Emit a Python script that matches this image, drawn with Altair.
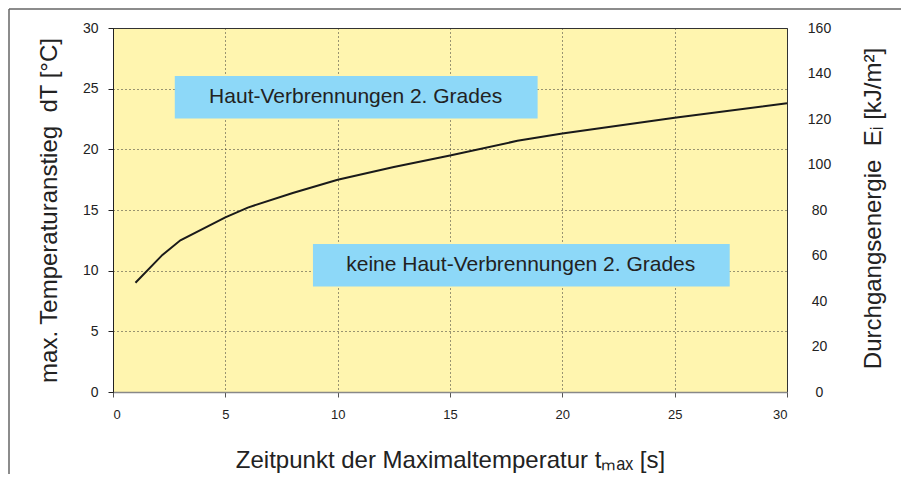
import altair as alt
import pandas as pd

# --- data ---
t_values = [1, 2.2, 3, 5, 6, 8, 10, 12.5, 15, 18, 20, 25, 30]
dT_values = [9.0, 11.3, 12.5, 14.4, 15.2, 16.4, 17.5, 18.55, 19.5, 20.7, 21.3, 22.6, 23.8]

box_labels = ["Haut-Verbrennungen 2. Grades", "keine Haut-Verbrennungen 2. Grades"]
box_x1 = [2.75, 8.9]
box_x2 = [18.9, 27.45]
box_y1 = [22.55, 8.7]
box_y2 = [26.05, 12.2]
label_x = [10.8, 18.15]
label_y = [24.3, 10.45]

x_ticks = [0, 5, 10, 15, 20, 25, 30]
left_ticks = [0, 5, 10, 15, 20, 25, 30]
right_ticks = [0, 20, 40, 60, 80, 100, 120, 140, 160]
right_domain = [0, 160]

FONT = "Liberation Sans"
NARROW = "'Liberation Sans Narrow', 'Liberation Sans', sans-serif"
YELLOW = "#FFF5AF"
BLUE = "#8DD8F8"

curve = pd.DataFrame({"t": t_values, "dT": dT_values})
boxes = pd.DataFrame({
    "label": box_labels, "x1": box_x1, "x2": box_x2,
    "y1": box_y1, "y2": box_y2, "lx": label_x, "ly": label_y,
})
energy = pd.DataFrame({"E": right_domain, "t": [0, 30]})

xscale = alt.Scale(domain=[0, 30], nice=False, zero=False)
yscale = alt.Scale(domain=[0, 30], nice=False)

x_axis = alt.Axis(
    title="Zeitpunkt der Maximaltemperatur t\u2098\u2090\u2093 [s]",
    values=x_ticks, grid=True, gridDash=[1, 3], gridColor="#333", gridWidth=1,
    labelFont=NARROW, labelFontSize=13, labelColor="#222", labelPadding=11,
    tickSize=5, tickColor="#555", domainColor="#888", domainWidth=1.5,
    titleFont=FONT, titleFontSize=24, titleFontWeight="normal", titleColor="#222",
    titleX=337, titleY=75, titleAlign="center", titleBaseline="alphabetic",
)
left_axis = alt.Axis(
    title="max. Temperaturanstieg\u00a0\u00a0dT [°C]",
    values=left_ticks, grid=True, gridDash=[1, 3], gridColor="#333", gridWidth=1,
    labelFont=FONT, labelFontSize=14, labelColor="#222", labelPadding=10,
    tickSize=5, tickColor="#222", domainColor="#222", domainWidth=1,
    titleFont=FONT, titleFontSize=24, titleFontWeight="normal", titleColor="#222",
    titleAngle=270, titleX=-57, titleY=182, titleAlign="center", titleBaseline="alphabetic",
)
right_axis = alt.Axis(
    title="Durchgangsenergie\u00a0\u00a0E\u1d62 [kJ/m²]", orient="right",
    values=right_ticks, grid=False, ticks=False, tickSize=0, domain=False,
    labelFont=FONT, labelFontSize=14, labelColor="#222", labelPadding=32, labelAlign="center",
    titleFont=FONT, titleFontSize=24, titleFontWeight="normal", titleColor="#222",
    titleAngle=270, titleX=93, titleY=180, titleAlign="center", titleBaseline="alphabetic",
)

rects = alt.Chart(boxes).mark_rect(color=BLUE).encode(
    x=alt.X("x1:Q", scale=xscale, axis=x_axis),
    x2="x2:Q",
    y=alt.Y("y1:Q", scale=yscale, axis=left_axis),
    y2="y2:Q",
)
texts = alt.Chart(boxes).mark_text(font=FONT, fontSize=21, color="#222").encode(
    x=alt.X("lx:Q", scale=xscale),
    y=alt.Y("ly:Q", scale=yscale),
    text="label:N",
)
line = alt.Chart(curve).mark_line(color="#1a1a1a", strokeWidth=2).encode(
    x=alt.X("t:Q", scale=xscale),
    y=alt.Y("dT:Q", scale=yscale),
)
left_layer = alt.layer(rects, texts, line)

right_layer = alt.Chart(energy).mark_point(opacity=0).encode(
    x=alt.X("t:Q", scale=xscale),
    y=alt.Y("E:Q", scale=alt.Scale(domain=right_domain, nice=False), axis=right_axis),
)

frame_df = pd.DataFrame({"k": [0]})
frame_left = alt.Chart(frame_df).mark_rule(color="#666", strokeWidth=1.5).encode(
    x=alt.value(-104), y=alt.value(-19), y2=alt.value(470)
)
frame_top = alt.Chart(frame_df).mark_rule(color="#666", strokeWidth=1.5).encode(
    x=alt.value(-104), x2=alt.value(800), y=alt.value(-19)
)

chart = alt.layer(left_layer, right_layer, frame_left, frame_top).resolve_scale(
    y="independent"
).properties(
    width=674, height=364,
    autosize=alt.AutoSizeParams(type="none"),
    padding={"left": 105, "top": 20, "right": 114, "bottom": 82},
).configure_view(
    fill=YELLOW, stroke="#333", strokeWidth=1
)

chart.save("out.html", embed_options={"renderer": "svg", "actions": False})
